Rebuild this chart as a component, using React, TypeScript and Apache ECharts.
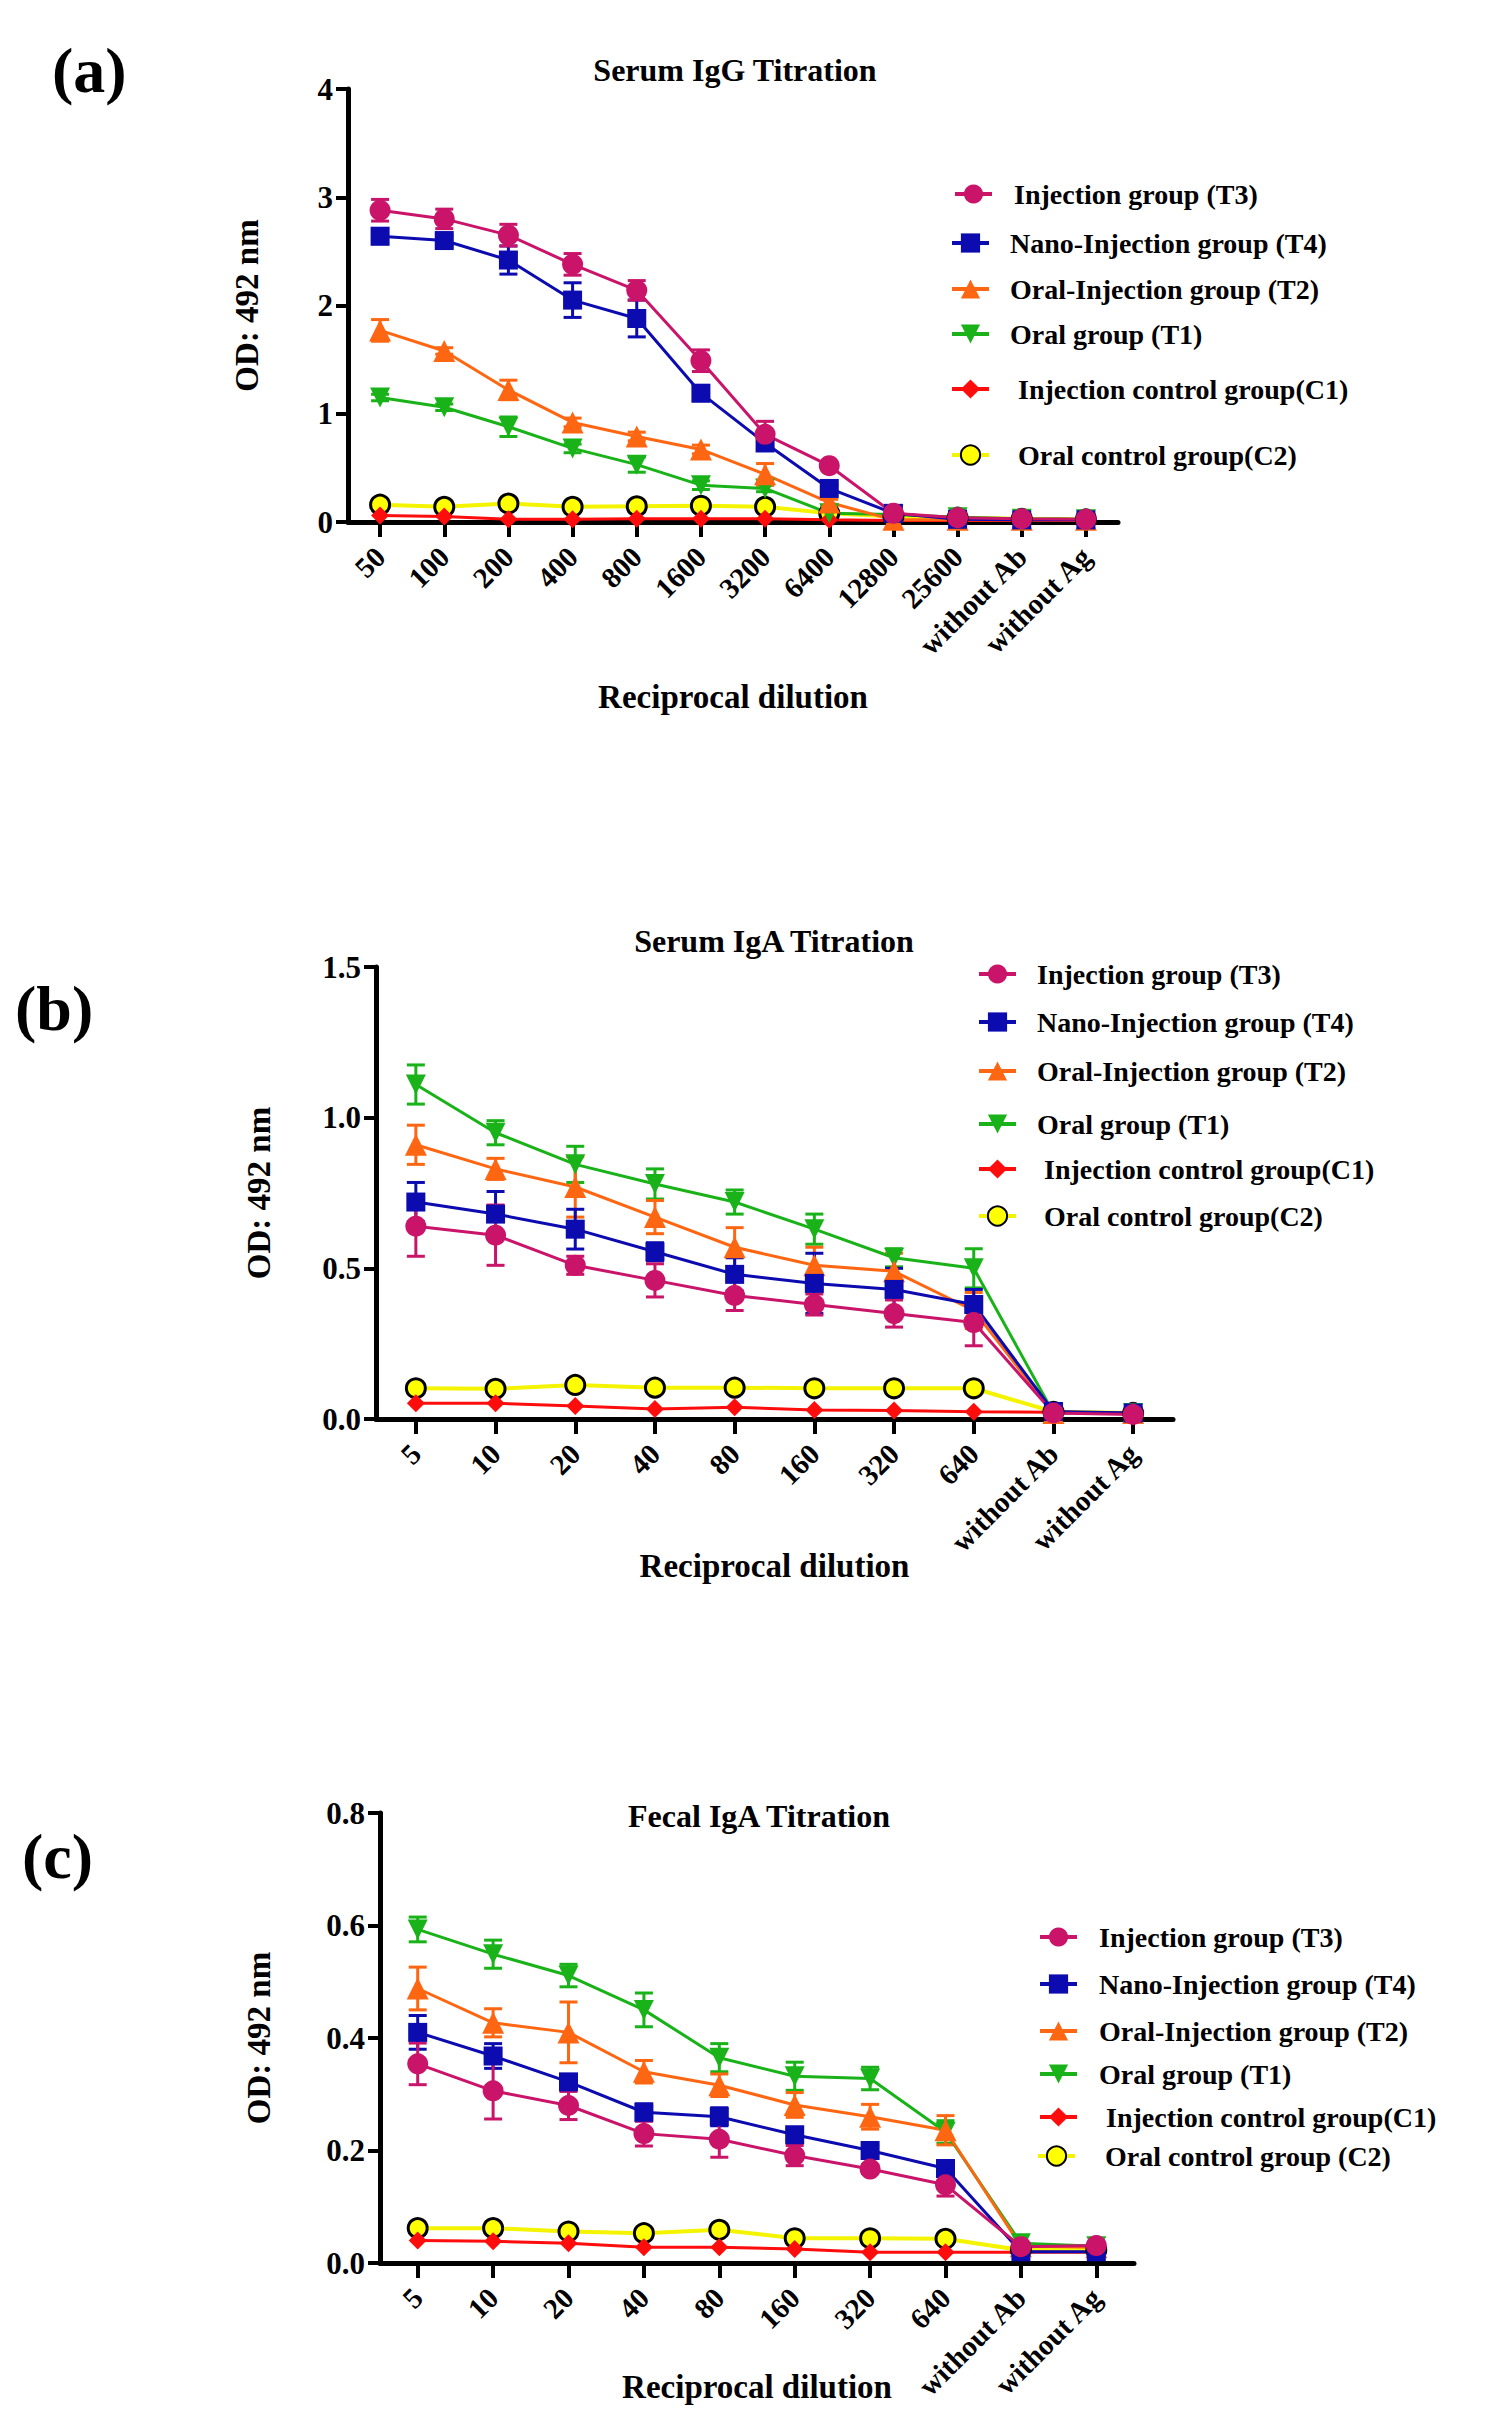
import React, { useEffect, useRef } from "react";
import * as echarts from "echarts";

// ---------------- data ----------------
const igGCategories = ["50", "100", "200", "400", "800", "1600", "3200", "6400", "12800", "25600", "without Ab", "without Ag"];
const igG_T3 = [2.88, 2.8, 2.65, 2.38, 2.14, 1.49, 0.81, 0.52, 0.08, 0.04, 0.03, 0.025];
const igG_T3_sem = [0.1, 0.09, 0.1, 0.1, 0.09, 0.1, 0.12, 0.03, 0.01, 0, 0, 0];
const igG_T4 = [2.64, 2.6, 2.42, 2.05, 1.88, 1.19, 0.73, 0.31, 0.08, 0.025, 0.02, 0.02];
const igG_T4_sem = [0.07, 0.05, 0.13, 0.16, 0.17, 0.07, 0.05, 0.03, 0.01, 0, 0, 0];
const igG_T2 = [1.77, 1.58, 1.22, 0.92, 0.79, 0.67, 0.44, 0.18, 0.02, 0.02, 0.02, 0.02];
const igG_T2_sem = [0.1, 0.03, 0.09, 0.04, 0.04, 0.04, 0.1, 0.03, 0, 0, 0, 0];
const igG_T1 = [1.15, 1.06, 0.88, 0.68, 0.53, 0.34, 0.31, 0.08, 0.07, 0.045, 0.03, 0.025];
const igG_T1_sem = [0.03, 0.03, 0.09, 0.04, 0.07, 0.04, 0.03, 0.01, 0, 0, 0, 0];
const igG_C1 = [0.06, 0.05, 0.025, 0.025, 0.03, 0.03, 0.03, 0.02, 0.015, 0.015, 0.015, 0.015];
const igG_C2 = [0.16, 0.14, 0.17, 0.14, 0.145, 0.15, 0.14, 0.08, 0.05, 0.04, 0.03, 0.025];

const igACategories = ["5", "10", "20", "40", "80", "160", "320", "640", "without Ab", "without Ag"];
const sIgA_T3 = [0.64, 0.61, 0.51, 0.46, 0.41, 0.38, 0.35, 0.32, 0.02, 0.015];
const sIgA_T3_sem = [0.1, 0.1, 0.03, 0.055, 0.05, 0.035, 0.045, 0.077, 0, 0];
const sIgA_T4 = [0.72, 0.68, 0.63, 0.555, 0.48, 0.45, 0.43, 0.38, 0.025, 0.02];
const sIgA_T4_sem = [0.065, 0.075, 0.066, 0.03, 0.055, 0.1, 0.07, 0.05, 0, 0];
const sIgA_T2 = [0.91, 0.83, 0.77, 0.67, 0.57, 0.51, 0.49, 0.36, 0.02, 0.02];
const sIgA_T2_sem = [0.065, 0.035, 0.1, 0.055, 0.065, 0.06, 0.06, 0.06, 0, 0];
const sIgA_T1 = [1.11, 0.95, 0.845, 0.78, 0.72, 0.63, 0.535, 0.5, 0.02, 0.02];
const sIgA_T1_sem = [0.065, 0.04, 0.06, 0.05, 0.04, 0.05, 0.03, 0.065, 0, 0];
const sIgA_C1 = [0.052, 0.052, 0.043, 0.033, 0.039, 0.03, 0.028, 0.024, 0.022, 0.019];
const sIgA_C2 = [0.102, 0.1, 0.113, 0.104, 0.104, 0.102, 0.102, 0.102, 0.024, 0.02];

const fIgA_T3 = [0.354, 0.306, 0.28, 0.23, 0.22, 0.191, 0.167, 0.139, 0.029, 0.031];
const fIgA_T3_sem = [0.037, 0.05, 0.025, 0.022, 0.032, 0.018, 0.008, 0.02, 0, 0];
const fIgA_T4 = [0.41, 0.368, 0.322, 0.268, 0.26, 0.228, 0.2, 0.168, 0.02, 0.02];
const fIgA_T4_sem = [0.03, 0.022, 0.01, 0.015, 0.016, 0.01, 0.008, 0.01, 0, 0];
const fIgA_T2 = [0.488, 0.427, 0.41, 0.34, 0.316, 0.281, 0.26, 0.236, 0.03, 0.028];
const fIgA_T2_sem = [0.038, 0.025, 0.054, 0.02, 0.02, 0.022, 0.022, 0.026, 0, 0];
const fIgA_T1 = [0.593, 0.549, 0.511, 0.45, 0.365, 0.332, 0.328, 0.233, 0.035, 0.03];
const fIgA_T1_sem = [0.022, 0.025, 0.02, 0.03, 0.025, 0.025, 0.02, 0.02, 0, 0];
const fIgA_C1 = [0.04, 0.0385, 0.035, 0.028, 0.028, 0.025, 0.019, 0.019, 0.019, 0.019];
const fIgA_C2 = [0.062, 0.062, 0.056, 0.053, 0.059, 0.044, 0.044, 0.043, 0.023, 0.023];

const labelsSerum = {
  T3: "Injection group (T3)",
  T4: "Nano-Injection group (T4)",
  T2: "Oral-Injection group (T2)",
  T1: "Oral group (T1)",
  C1: "Injection control group(C1)",
  C2: "Oral control group(C2)",
};
const labelsFecal = {
  T3: "Injection group (T3)",
  T4: "Nano-Injection group (T4)",
  T2: "Oral-Injection group (T2)",
  T1: "Oral group (T1)",
  C1: "Injection control group(C1)",
  C2: "Oral control group (C2)",
};
const legendOrder = ["T3", "T4", "T2", "T1", "C1", "C2"];
const drawOrder = ["C2", "C1", "T1", "T2", "T4", "T3"];

// ---------------- styles / layout ----------------
const FONT = '"Liberation Serif", "Times New Roman", Times, serif';
const STYLE: Record<string, any> = {
  T3: { color: "#C9146A", symbol: "circle", size: 21 },
  T4: { color: "#0B0BB0", symbol: "rect", size: 19 },
  T2: { color: "#FF6612", symbol: "triangle", size: 22 },
  T1: { color: "#19B319", symbol: "path://M0,0L10,0L5,9Z", size: 20 },
  C1: { color: "#FF0D0D", symbol: "diamond", size: 18 },
  C2: { color: "#FFFF00", symbol: "circle", size: 19 },
};

const panels = [
  {
    tag: "(a)", tagPos: [52, 38],
    title: "Serum IgG Titration", titlePos: [735, 54],
    cats: igGCategories,
    values: { T3: igG_T3, T4: igG_T4, T2: igG_T2, T1: igG_T1, C1: igG_C1, C2: igG_C2 },
    sems: { T3: igG_T3_sem, T4: igG_T4_sem, T2: igG_T2_sem, T1: igG_T1_sem },
    labels: labelsSerum,
    grid: { left: 348, top: 89, width: 770, height: 433 },
    y: { min: 0, max: 4, interval: 1, digits: 0 },
    yNameGap: 85, xNameGap: 158,
    legendIconX: [953, 950, 950, 950, 950, 950],
    legendTextX: [1012, 1008, 1008, 1008, 1016, 1016],
    legendY: [195, 244, 290, 335, 390, 456],
  },
  {
    tag: "(b)", tagPos: [15, 976],
    title: "Serum IgA Titration", titlePos: [774, 925],
    cats: igACategories,
    values: { T3: sIgA_T3, T4: sIgA_T4, T2: sIgA_T2, T1: sIgA_T1, C1: sIgA_C1, C2: sIgA_C2 },
    sems: { T3: sIgA_T3_sem, T4: sIgA_T4_sem, T2: sIgA_T2_sem, T1: sIgA_T1_sem },
    labels: labelsSerum,
    grid: { left: 376, top: 967, width: 797, height: 452 },
    y: { min: 0, max: 1.5, interval: 0.5, digits: 1 },
    yNameGap: 101, xNameGap: 130,
    legendIconX: [977, 977, 977, 977, 977, 977],
    legendTextX: [1035, 1035, 1035, 1035, 1042, 1042],
    legendY: [975, 1023, 1072, 1125, 1170, 1217],
  },
  {
    tag: "(c)", tagPos: [22, 1824],
    title: "Fecal IgA Titration", titlePos: [759, 1800],
    cats: igACategories,
    values: { T3: fIgA_T3, T4: fIgA_T4, T2: fIgA_T2, T1: fIgA_T1, C1: fIgA_C1, C2: fIgA_C2 },
    sems: { T3: fIgA_T3_sem, T4: fIgA_T4_sem, T2: fIgA_T2_sem, T1: fIgA_T1_sem },
    labels: labelsFecal,
    grid: { left: 380, top: 1813, width: 754, height: 450 },
    y: { min: 0, max: 0.8, interval: 0.2, digits: 1 },
    yNameGap: 105, xNameGap: 107,
    legendIconX: [1038, 1038, 1038, 1038, 1038, 1036],
    legendTextX: [1097, 1097, 1097, 1097, 1104, 1103],
    legendY: [1938, 1985, 2032, 2075, 2118, 2157],
  },
];

const boldText = (size: number) => ({ fontFamily: FONT, fontWeight: "bold", fontSize: size, color: "#000" });

function makeErrorBar(color: string, cap: number) {
  return (params: any, api: any) => {
    const x = api.value(0);
    const a = api.coord([x, api.value(1)]);
    const b = api.coord([x, api.value(2)]);
    const s = { stroke: color, lineWidth: 3 };
    return {
      type: "group",
      children: [
        { type: "line", shape: { x1: a[0], y1: a[1], x2: b[0], y2: b[1] }, style: s },
        { type: "line", shape: { x1: a[0] - cap, y1: a[1], x2: a[0] + cap, y2: a[1] }, style: s },
        { type: "line", shape: { x1: b[0] - cap, y1: b[1], x2: b[0] + cap, y2: b[1] }, style: s },
      ],
    };
  };
}

function buildOption() {
  const grid: any[] = [];
  const xAxis: any[] = [];
  const yAxis: any[] = [];
  const series: any[] = [];
  const legend: any[] = [];
  const title: any[] = [];

  panels.forEach((p, idx) => {
    grid.push({ ...p.grid, containLabel: false, outerBoundsMode: "none" });
    xAxis.push({
      gridIndex: idx,
      type: "category",
      data: p.cats,
      boundaryGap: true,
      axisLine: { show: true, onZero: false, lineStyle: { color: "#000", width: 5 } },
      axisTick: { show: true, alignWithLabel: true, length: 15, lineStyle: { color: "#000", width: 4 } },
      axisLabel: { ...boldText(29), rotate: 45, margin: 30, interval: 0 },
      splitLine: { show: false },
      name: "Reciprocal dilution",
      nameLocation: "middle",
      nameGap: p.xNameGap,
      nameMoveOverlap: false,
      nameTextStyle: boldText(33),
    });
    yAxis.push({
      gridIndex: idx,
      type: "value",
      min: p.y.min,
      max: p.y.max,
      interval: p.y.interval,
      axisLine: { show: true, lineStyle: { color: "#000", width: 5 } },
      axisTick: { show: true, length: 12, lineStyle: { color: "#000", width: 4 } },
      axisLabel: { ...boldText(31), margin: 15, formatter: (v: number) => v.toFixed(p.y.digits) },
      splitLine: { show: false },
      name: "OD: 492 nm",
      nameLocation: "middle",
      nameGap: p.yNameGap,
      nameMoveOverlap: false,
      nameTextStyle: boldText(33),
    });

    drawOrder.forEach((k) => {
      const st = STYLE[k];
      const vals: number[] = (p.values as any)[k];
      const sem: number[] | undefined = (p.sems as any)[k];
      const name = (p.labels as any)[k];
      if (sem) {
        const d: any[] = [];
        vals.forEach((v, i) => {
          if (sem[i] > 0) d.push([p.cats[i], v - sem[i], v + sem[i]]);
        });
        series.push({
          type: "custom",
          name: name + " SEM " + idx,
          xAxisIndex: idx,
          yAxisIndex: idx,
          data: d,
          encode: { x: 0, y: [1, 2] },
          renderItem: makeErrorBar(st.color, 9),
          silent: true,
        });
      }
      const isC2 = k === "C2";
      series.push({
        type: "line",
        name,
        xAxisIndex: idx,
        yAxisIndex: idx,
        data: vals,
        symbol: st.symbol,
        symbolSize: st.size,
        showSymbol: true,
        showAllSymbol: true,
        lineStyle: { color: isC2 ? "#F4F400" : st.color, width: isC2 ? 4 : 3 },
        itemStyle: {
          color: st.color,
          borderColor: isC2 ? "#000" : st.color,
          borderWidth: isC2 ? 3 : 0,
          opacity: 1,
        },
        emphasis: { disabled: true },
      });
    });

    legendOrder.forEach((k, r) => {
      const pad = p.legendTextX[r] - p.legendIconX[r] - 37 - 5;
      legend.push({
        show: true,
        data: [(p.labels as any)[k]],
        left: p.legendIconX[r],
        top: p.legendY[r] - 15,
        orient: "vertical",
        padding: 0,
        itemWidth: 37,
        itemHeight: 24,
        selectedMode: false,
        lineStyle: { width: 4 },
        textStyle: { ...boldText(28), padding: [0, 0, 0, pad] },
      });
    });

    title.push({
      text: p.title,
      left: p.titlePos[0],
      top: p.titlePos[1],
      textAlign: "center",
      padding: 0,
      textStyle: boldText(32),
    });
    title.push({
      text: p.tag,
      left: p.tagPos[0],
      top: p.tagPos[1],
      padding: 0,
      textStyle: boldText(64),
    });
  });

  return {
    animation: false,
    backgroundColor: "#fff",
    title,
    legend,
    grid,
    xAxis,
    yAxis,
    series,
  };
}

export default function App() {
  const ref = useRef<HTMLDivElement>(null);
  useEffect(() => {
    if (!ref.current) return;
    const chart = echarts.init(ref.current, null, { renderer: "svg" });
    chart.setOption(buildOption() as any);
    return () => chart.dispose();
  }, []);
  return (
    <div
      ref={ref}
      style={{ position: "absolute", left: 0, top: 0, width: 1488, height: 2412, background: "#fff" }}
    />
  );
}
